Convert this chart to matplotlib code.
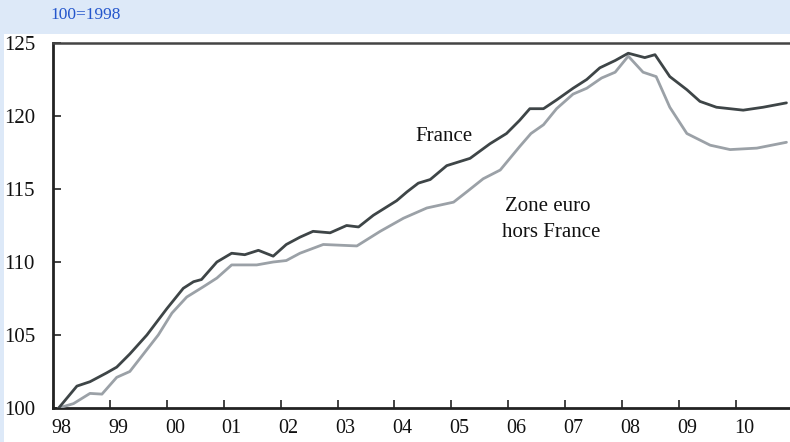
import matplotlib
matplotlib.use("Agg")
import matplotlib.pyplot as plt
import matplotlib.transforms as mtransforms

# Data (fractional years, index 100=1998)
france_t = [1998.10, 1998.42, 1998.65, 1998.94, 1999.12, 1999.35, 1999.65, 2000.00,
            2000.29, 2000.47, 2000.61, 2000.88, 2001.14, 2001.37, 2001.61, 2001.87,
            2002.10, 2002.34, 2002.57, 2002.87, 2003.16, 2003.37, 2003.63, 2004.04,
            2004.22, 2004.42, 2004.63, 2004.92, 2005.33, 2005.68, 2005.97, 2006.20,
            2006.38, 2006.62, 2006.85, 2007.14, 2007.38, 2007.61, 2007.88, 2008.11,
            2008.40, 2008.58, 2008.84, 2009.14, 2009.37, 2009.66, 2010.13, 2010.48,
            2010.89]
france_v = [100.0, 101.5, 101.8, 102.4, 102.8, 103.7, 105.0, 106.8,
            108.2, 108.65, 108.8, 110.0, 110.6, 110.5, 110.8, 110.4,
            111.2, 111.7, 112.1, 112.0, 112.5, 112.4, 113.2, 114.2,
            114.8, 115.4, 115.65, 116.6, 117.1, 118.1, 118.8, 119.7,
            120.5, 120.5, 121.1, 121.9, 122.5, 123.3, 123.8, 124.3,
            124.0, 124.2, 122.7, 121.8, 121.0, 120.6, 120.4, 120.6,
            120.9]

euro_t = [1998.10, 1998.36, 1998.65, 1998.86, 1999.12, 1999.35, 1999.59, 1999.85,
          2000.09, 2000.35, 2000.64, 2000.88, 2001.14, 2001.58, 2001.87, 2002.10,
          2002.34, 2002.75, 2003.34, 2003.75, 2004.16, 2004.57, 2005.04, 2005.27,
          2005.56, 2005.86, 2006.20, 2006.40, 2006.62, 2006.85, 2007.14, 2007.38,
          2007.64, 2007.88, 2008.11, 2008.37, 2008.60, 2008.84, 2009.14, 2009.55,
          2009.90, 2010.37, 2010.89]
euro_v = [100.0, 100.3, 101.0, 100.95, 102.1, 102.5, 103.7, 105.0,
          106.5, 107.6, 108.3, 108.9, 109.8, 109.8, 110.0, 110.1,
          110.6, 111.2, 111.1, 112.1, 113.0, 113.7, 114.1, 114.8,
          115.7, 116.3, 117.9, 118.8, 119.4, 120.5, 121.5, 121.9,
          122.6, 123.0, 124.1, 123.0, 122.7, 120.6, 118.8, 118.0,
          117.7, 117.8, 118.2]

year_ticks = list(range(1998, 2011))
year_labels = ["98", "99", "00", "01", "02", "03", "04", "05", "06", "07", "08", "09", "10"]
y_ticks = [100, 105, 110, 115, 120, 125]

plt.rcParams['font.family'] = ['Liberation Serif', 'DejaVu Serif']

W, H = 790, 442
fig = plt.figure(figsize=(W / 100, H / 100), dpi=100)
fig.patch.set_facecolor('#dde9f8')
bg = fig.add_axes([4 / W, 0, 1 - 4 / W, 1 - 34 / H], zorder=-10)
bg.set_facecolor('white')
bg.set_xticks([])
bg.set_yticks([])
for s in bg.spines.values():
    s.set_visible(False)

ax = fig.add_axes([53 / W, 1 - 408 / H, (W - 53) / W, (408 - 43) / H])
ax.set_facecolor('white')

ax.plot(euro_t, euro_v, color='#9ba1a7', lw=2.0, solid_capstyle='round',
        solid_joinstyle='round', zorder=3)
ax.plot(france_t, france_v, color='#3e4547', lw=2.0, solid_capstyle='round',
        solid_joinstyle='round', zorder=4)

ax.set_xlim(1998, 1998 + (W - 53) / 56.9)
ax.set_ylim(100, 125)

ax.set_xticks(year_ticks)
ax.set_xticklabels(year_labels)
ax.set_yticks(y_ticks)
ax.tick_params(axis='both', direction='in', length=6, width=1.2, color='#222222',
               labelsize=15, labelcolor='#111111')
ax.tick_params(axis='x', pad=8, labelsize=14.5)
ax.tick_params(axis='y', pad=13)
offset = mtransforms.ScaledTranslation(8 / 100, 0, fig.dpi_scale_trans)
for lab in ax.get_xticklabels():
    lab.set_transform(lab.get_transform() + offset)

for s in ['left', 'bottom']:
    ax.spines[s].set_color('#222222')
    ax.spines[s].set_linewidth(2.0)
ax.spines['top'].set_color('#444444')
ax.spines['top'].set_linewidth(1.8)
ax.spines['right'].set_visible(False)

ax.text(2004.87, 118.63, "France", fontsize=15, ha='center', va='center', color='#111111')
ax.text(2006.70, 113.77, "Zone euro", fontsize=15, ha='center', va='center', color='#111111')
ax.text(2006.75, 112.05, "hors France", fontsize=15, ha='center', va='center', color='#111111')

fig.text(50 / W, 1 - 15 / H, "100=1998", fontsize=12.5, color='#2456cc', ha='left', va='center')

fig.savefig('out.png', dpi=100, facecolor=fig.get_facecolor())
